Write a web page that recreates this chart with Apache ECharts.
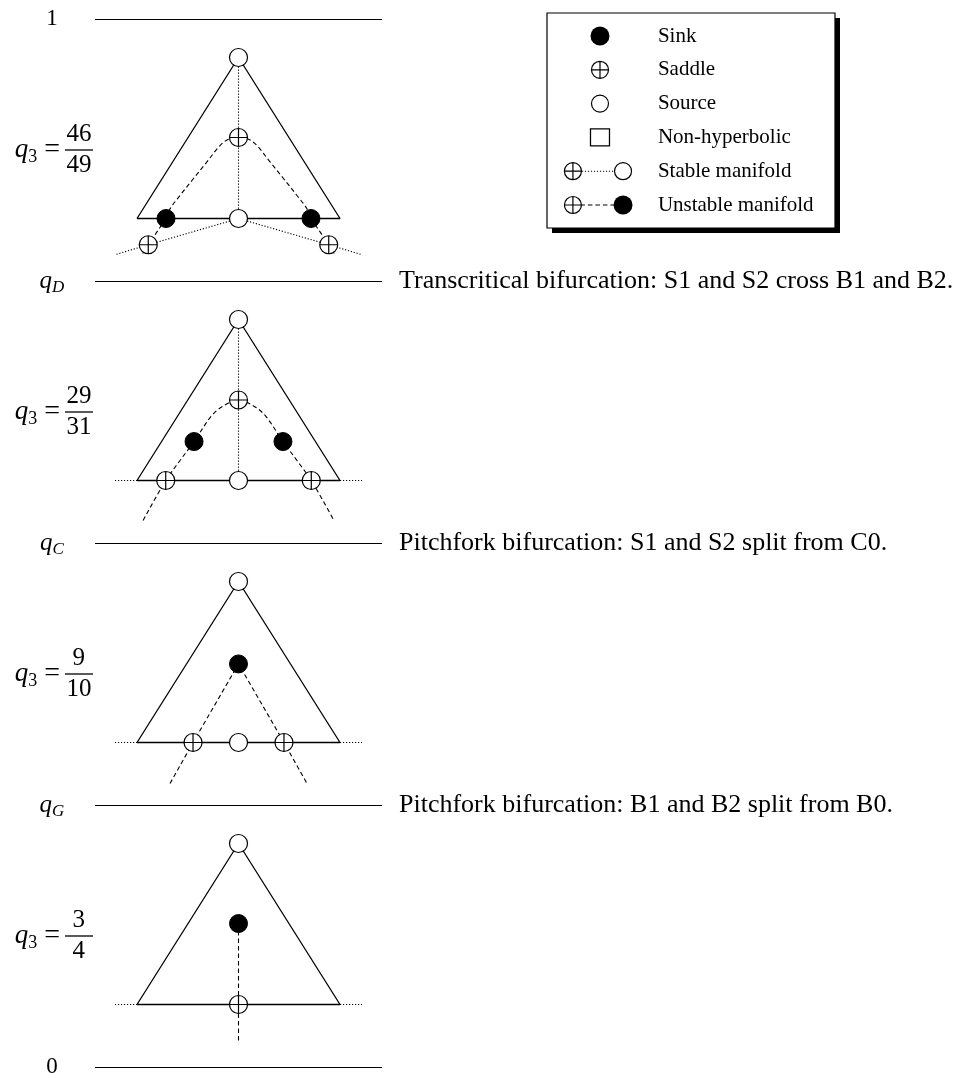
<!DOCTYPE html>
<html>
<head>
<meta charset="utf-8">
<script src="https://cdn.jsdelivr.net/npm/echarts@6/dist/echarts.min.js"></script>
<style>
  html, body { margin: 0; padding: 0; background: #fff; }
  #chart { width: 958px; height: 1078px; }
</style>
</head>
<body>
<div id="chart"></div>
<script>
// ---- Parameter levels of q3 (top to bottom) ----
const levelLabels = ['1', 'qD', 'qC', 'qG', '0'];
const bifurcationNotes = [
  '',
  'Transcritical bifurcation: S1 and S2 cross B1 and B2.',
  'Pitchfork bifurcation: S1 and S2 split from C0.',
  'Pitchfork bifurcation: B1 and B2 split from B0.',
  ''
];
const panelQ3 = ['46/49', '29/31', '9/10', '3/4'];

// ---- Phase portraits, in simplex coordinates: base from x=-1 to x=1 at y=0, apex at (0,1) ----
const simplex = [[-1, 0], [0, 1], [1, 0], [-1, 0]];

const sinks = [
  [[-0.714, 0], [0.714, 0]],
  [[-0.438, 0.242], [0.438, 0.242]],
  [[0, 0.488]],
  [[0, 0.503]]
];
const saddles = [
  [[0, 0.503], [-0.889, -0.163], [0.889, -0.163]],
  [[0, 0.5], [-0.717, 0], [0.717, 0]],
  [[-0.448, 0], [0.448, 0]],
  [[0, 0]]
];
const sources = [
  [[0, 1], [0, 0]],
  [[0, 1], [0, 0]],
  [[0, 1], [0, 0]],
  [[0, 1]]
];

// stable manifolds (dotted)
const stableManifolds = [
  [
    [[0, 1], [0, 0]],
    [[0, 0], [-0.889, -0.163], [-1.217, -0.225]],
    [[0, 0], [0.889, -0.163], [1.217, -0.225]]
  ],
  [
    [[0, 1], [0, 0]],
    [[-1.217, 0], [1.217, 0]]
  ],
  [
    [[-1.217, 0], [1.217, 0]]
  ],
  [
    [[-1.217, 0], [1.217, 0]]
  ]
];

// unstable manifolds (dashed), straight pieces
const unstableManifolds = [
  [
    [[-0.714, 0], [-0.889, -0.163], [-0.955, -0.228]],
    [[0.714, 0], [0.889, -0.163], [0.955, -0.228]]
  ],
  [],
  [
    [[-0.675, -0.255], [-0.448, 0], [0, 0.488], [0.448, 0], [0.675, -0.255]]
  ],
  [
    [[0, 0.503], [0, -0.242]]
  ]
];

// unstable manifolds (dashed), curved pieces
const unstableCurves = [
  [[
    [-0.714, 0], [-0.675, 0.06], [-0.576, 0.143], [-0.445, 0.247], [-0.313, 0.35],
    [-0.182, 0.453], [-0.1, 0.492], [0, 0.503], [0.1, 0.492], [0.182, 0.453],
    [0.313, 0.35], [0.445, 0.247], [0.576, 0.143], [0.675, 0.06], [0.714, 0]
  ]],
  [[
    [-0.94, -0.248], [-0.717, 0], [-0.576, 0.124], [-0.438, 0.242], [-0.248, 0.414],
    [-0.084, 0.486], [0, 0.5], [0.084, 0.486], [0.248, 0.414], [0.438, 0.242],
    [0.576, 0.124], [0.717, 0], [0.94, -0.248]
  ]],
  [],
  []
];

// ---- Legend rows ----
const legendLabels = ['Sink', 'Saddle', 'Source', 'Non-hyperbolic', 'Stable manifold', 'Unstable manifold'];
const legendSinks = [[0.184, 0], [0.264, 5]];
const legendSaddles = [[0.184, 1], [0.09, 4], [0.09, 5]];
const legendSources = [[0.184, 2], [0.264, 4]];
const legendNonHyperbolic = [[0.184, 3]];
const legendStable = [[[0.09, 4], [0.264, 4]]];
const legendUnstable = [[[0.09, 5], [0.264, 5]]];
const legendTextX = 0.385;

// ---- Layout ----
const FONT = '"Liberation Serif", "Times New Roman", serif';
const FRAME = { left: 95, right: 382, top: 19, bottom: 1067 };
const STEP = (FRAME.bottom - FRAME.top) / (levelLabels.length - 1);
const CX = 238.5, UX = 101.5, UY = 161, APEX_OFFSET = 38.5;
const X_RANGE = [-1.5, 1.5], Y_RANGE = [-0.4, 1.2];
const LEGEND_BOX = { left: 547, top: 13, width: 288, height: 215 };
const SHADOW = 5;
const LEGEND_Y = [-0.68, 5.68];

const SADDLE = 'path://M0,-10A10,10,0,1,1,0,10A10,10,0,1,1,0,-10ZM-10,0L10,0M0,-10L0,10';
const DOTTED = [1.2, 1.8];
const DASHED = [4.5, 3];

const grids = [];
const xAxes = [];
const yAxes = [];
const series = [];

// frame: horizontal level lines, level names, q3 values and notes
grids.push({
  left: FRAME.left, top: FRAME.top,
  width: FRAME.right - FRAME.left, height: FRAME.bottom - FRAME.top,
  containLabel: false, outerBoundsMode: 'none'
});
xAxes.push({ gridIndex: 0, type: 'value', min: 0, max: 1, show: false });

const hidden = { axisLine: { show: false }, axisTick: { show: false } };
yAxes.push(Object.assign({
  gridIndex: 0, type: 'category', data: levelLabels, inverse: true, boundaryGap: false,
  position: 'left', offset: 0,
  splitLine: { show: true, interval: 0, lineStyle: { color: '#000', width: 1.2 } },
  axisLabel: {
    interval: 0, margin: 43, align: 'center', verticalAlign: 'middle',
    color: '#000', fontFamily: FONT, fontSize: 23,
    formatter: v => v.charAt(0) === 'q' ? '{q|q}{sub|' + v.slice(1) + '}' : v,
    rich: {
      q: { fontFamily: FONT, fontStyle: 'italic', fontSize: 25, color: '#000', lineHeight: 26 },
      sub: { fontFamily: FONT, fontStyle: 'italic', fontSize: 17, color: '#000', lineHeight: 26, padding: [14, 0, 0, 0] }
    }
  }
}, hidden));

yAxes.push(Object.assign({
  gridIndex: 0, type: 'category', data: panelQ3, inverse: true, boundaryGap: true,
  position: 'left', offset: 0, splitLine: { show: false },
  axisLabel: {
    interval: 0, margin: 2, align: 'right', verticalAlign: 'middle', color: '#000',
    formatter: v => {
      const [n, d] = v.split('/');
      const nn = n.length === 1 ? 'num1' : 'num2';
      const dd = d.length === 1 ? 'num1' : 'num2';
      return '{' + nn + '|' + n + '}\n{q|q}{sub|3}{eq|=}{bar| }\n{' + dd + '|' + d + '}';
    },
    rich: {
      num1: { fontFamily: FONT, fontSize: 25, color: '#000', lineHeight: 27, padding: [0, 8, 0, 0] },
      num2: { fontFamily: FONT, fontSize: 25, color: '#000', lineHeight: 27, padding: [0, 1.5, 0, 0] },
      q: { fontFamily: FONT, fontStyle: 'italic', fontSize: 27, color: '#000', lineHeight: 4 },
      sub: { fontFamily: FONT, fontSize: 18, color: '#000', lineHeight: 4, padding: [14, 0, 0, 0] },
      eq: { fontFamily: FONT, fontSize: 28, color: '#000', lineHeight: 4, padding: [0, 5, 0, 7] },
      bar: { width: 28, height: 1.3, backgroundColor: '#000', lineHeight: 4 }
    }
  }
}, hidden));

yAxes.push(Object.assign({
  gridIndex: 0, type: 'category', data: levelLabels, inverse: true, boundaryGap: false,
  position: 'right', offset: 0, splitLine: { show: false },
  axisLabel: {
    interval: 0, margin: 17, align: 'left', verticalAlign: 'middle',
    color: '#000', fontFamily: FONT, fontSize: 26, padding: [0, 0, 4, 0],
    formatter: (v, i) => bifurcationNotes[i]
  }
}, hidden));

// one grid per phase portrait
panelQ3.forEach((q, i) => {
  const apex = FRAME.top + APEX_OFFSET + i * STEP;
  const g = grids.length;
  grids.push({
    left: CX + X_RANGE[0] * UX, width: (X_RANGE[1] - X_RANGE[0]) * UX,
    top: apex - (Y_RANGE[1] - 1) * UY, height: (Y_RANGE[1] - Y_RANGE[0]) * UY,
    containLabel: false, outerBoundsMode: 'none'
  });
  xAxes.push({ gridIndex: g, type: 'value', min: X_RANGE[0], max: X_RANGE[1], show: false });
  yAxes.push({ gridIndex: g, type: 'value', min: Y_RANGE[0], max: Y_RANGE[1], show: false });
  const ax = { xAxisIndex: xAxes.length - 1, yAxisIndex: yAxes.length - 1 };

  const line = (data, type, width, smooth) => Object.assign({
    type: 'line', data, symbol: 'none', silent: true, clip: false, z: 2, smooth: smooth || false,
    lineStyle: { color: '#000', width, type }
  }, ax);

  series.push(line(simplex, 'solid', 1.3));
  stableManifolds[i].forEach(p => series.push(line(p, DOTTED, 1.1)));
  unstableManifolds[i].forEach(p => series.push(line(p, DASHED, 1.1)));
  unstableCurves[i].forEach(p => series.push(line(p, DASHED, 1.1, 0.35)));

  series.push(Object.assign({ type: 'scatter', data: sinks[i], symbol: 'circle', symbolSize: 18, z: 5, silent: true,
    itemStyle: { color: '#000', borderColor: '#000', borderWidth: 1, opacity: 1 } }, ax));
  series.push(Object.assign({ type: 'scatter', data: saddles[i], symbol: SADDLE, symbolSize: 18, z: 5, silent: true,
    itemStyle: { color: '#fff', borderColor: '#000', borderWidth: 1.2, opacity: 1 } }, ax));
  series.push(Object.assign({ type: 'scatter', data: sources[i], symbol: 'circle', symbolSize: 18, z: 5, silent: true,
    itemStyle: { color: '#fff', borderColor: '#000', borderWidth: 1.2, opacity: 1 } }, ax));
});

// legend box: solid drop shadow behind a framed white panel
grids.push(Object.assign({}, LEGEND_BOX, {
  left: LEGEND_BOX.left + SHADOW, top: LEGEND_BOX.top + SHADOW,
  show: true, backgroundColor: '#000', borderWidth: 0,
  containLabel: false, outerBoundsMode: 'none'
}));
xAxes.push({ gridIndex: grids.length - 1, type: 'value', min: 0, max: 1, show: false });
yAxes.push({ gridIndex: grids.length - 1, type: 'value', min: 0, max: 1, show: false });
{
  const g = grids.length;
  grids.push(Object.assign({}, LEGEND_BOX, {
    show: true, backgroundColor: '#fff', borderColor: '#000', borderWidth: 1.2,
    containLabel: false, outerBoundsMode: 'none'
  }));
  xAxes.push({ gridIndex: g, type: 'value', min: 0, max: 1, show: false });
  yAxes.push({ gridIndex: g, type: 'value', min: LEGEND_Y[0], max: LEGEND_Y[1], inverse: true, show: false });
  const ax = { xAxisIndex: xAxes.length - 1, yAxisIndex: yAxes.length - 1 };
  const line = (data, type) => Object.assign({
    type: 'line', data, symbol: 'none', silent: true, z: 2,
    lineStyle: { color: '#000', width: 1.1, type }
  }, ax);
  legendStable.forEach(p => series.push(line(p, DOTTED)));
  legendUnstable.forEach(p => series.push(line(p, DASHED)));
  series.push(Object.assign({ type: 'scatter', data: legendSinks, symbol: 'circle', symbolSize: 19, z: 5, silent: true,
    itemStyle: { color: '#000', opacity: 1 } }, ax));
  series.push(Object.assign({ type: 'scatter', data: legendSaddles, symbol: SADDLE, symbolSize: 17, z: 5, silent: true,
    itemStyle: { color: '#fff', borderColor: '#000', borderWidth: 1.2, opacity: 1 } }, ax));
  series.push(Object.assign({ type: 'scatter', data: legendSources, symbol: 'circle', symbolSize: 17, z: 5, silent: true,
    itemStyle: { color: '#fff', borderColor: '#000', borderWidth: 1.2, opacity: 1 } }, ax));
  series.push(Object.assign({ type: 'scatter', data: legendNonHyperbolic, symbol: 'rect', symbolSize: [19, 17], z: 5, silent: true,
    itemStyle: { color: '#fff', borderColor: '#000', borderWidth: 1.2, opacity: 1 } }, ax));
  series.push(Object.assign({
    type: 'scatter', symbolSize: 0, silent: true, z: 5,
    itemStyle: { opacity: 1 },
    data: legendLabels.map((name, k) => ({ name, value: [legendTextX, k] })),
    label: { show: true, position: 'right', distance: 0, formatter: '{b}', color: '#000', opacity: 1,
      fontFamily: FONT, fontSize: 21 }
  }, ax));
}

const chart = echarts.init(document.getElementById('chart'), null, { renderer: 'canvas' });
chart.setOption({
  animation: false,
  backgroundColor: '#fff',
  tooltip: { show: false },
  grid: grids,
  xAxis: xAxes,
  yAxis: yAxes,
  series
});
</script>
</body>
</html>
